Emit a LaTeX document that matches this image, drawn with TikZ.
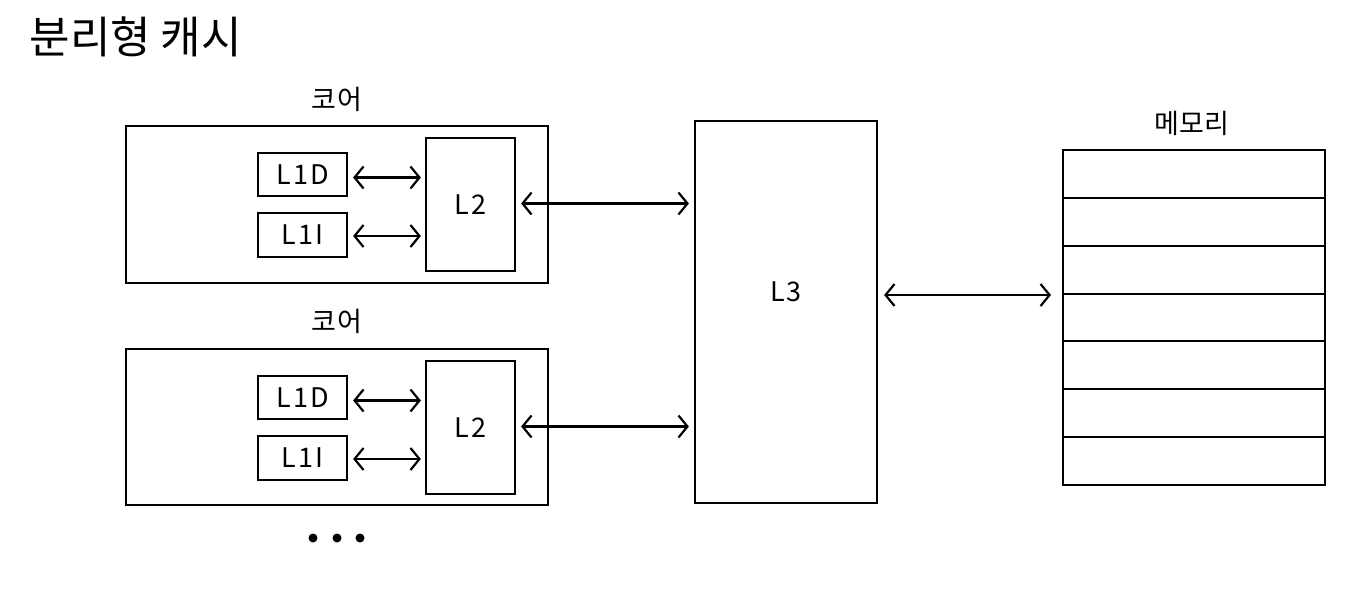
\documentclass[tikz,border=0pt]{standalone}
\usepackage{fontspec}
\setmainfont{Noto Sans CJK KR}
\usetikzlibrary{arrows.meta}
\begin{document}
\begin{tikzpicture}[x=1pt,y=-1pt,
  box/.style={draw, line width=2.2pt, inner sep=0pt, rectangle},
  lbl/.style={font=\fontsize{27}{29}\selectfont\addfontfeatures{LetterSpace=8}},
  klbl/.style={font=\fontsize{27}{29}\selectfont\addfontfeatures{LetterSpace=2}},
  biarrow/.style={line width=2.2pt, {Straight Barb[length=9pt,width=22pt,line width=2.2pt]}-{Straight Barb[length=9pt,width=22pt,line width=2.2pt]}},
  dot/.style={circle, fill=black, inner sep=0pt, minimum size=9pt}
]
\useasboundingbox (0,0) rectangle (1364,590);
\node[font=\fontsize{44}{46}\selectfont, anchor=west] (title) at (26,37) {분리형 캐시};

% core 1
\node[klbl] (c1lbl) at (337,99) {코어};
\node[box, minimum width=422pt, minimum height=157pt] (core1) at (337,204.5) {};
\node[box, lbl, minimum width=89pt, minimum height=43pt] (l1da) at (302.5,174.5) {L1D};
\node[box, lbl, minimum width=89pt, minimum height=44pt] (l1ia) at (302.5,235) {L1I};
\node[box, lbl, minimum width=89pt, minimum height=133pt] (l2a) at (470.5,204.5) {L2};

% core 2
\node[klbl] (c2lbl) at (337,321) {코어};
\node[box, minimum width=422pt, minimum height=156pt] (core2) at (337,427) {};
\node[box, lbl, minimum width=89pt, minimum height=43pt] (l1db) at (302.5,397.5) {L1D};
\node[box, lbl, minimum width=89pt, minimum height=44pt] (l1ib) at (302.5,458) {L1I};
\node[box, lbl, minimum width=89pt, minimum height=133pt] (l2b) at (470.5,427.5) {L2};

% L3
\node[box, minimum width=182pt, minimum height=382pt] (l3) at (786,312) {};
\node[lbl] (l3lbl) at (786,292) {L3};

% memory
\node[klbl] (memlbl) at (1192,123) {메모리};
\node[box, line width=2pt, minimum width=262pt, minimum height=335pt] (mem) at (1194,317.5) {};
\foreach \i in {1,...,6} {
  \draw[line width=2pt] (1063,150+\i*47.857) -- (1325,150+\i*47.857);
}

% arrows
\draw[biarrow, shorten <=5pt, shorten >=4pt] (l1da.east) ++(0,3) coordinate (a1) -- (a1 -| l2a.west);
\draw[biarrow, shorten <=5pt, shorten >=4pt] (l1ia.east) ++(0,1) coordinate (a2) -- (a2 -| l2a.west);
\draw[biarrow, shorten <=5pt, shorten >=5pt] (l2a.east) ++(0,-1) coordinate (a3) -- (a3 -| l3.west);
\draw[biarrow, shorten <=5pt, shorten >=4pt] (l1db.east) ++(0,3) coordinate (b1) -- (b1 -| l2b.west);
\draw[biarrow, shorten <=5pt, shorten >=4pt] (l1ib.east) ++(0,1) coordinate (b2) -- (b2 -| l2b.west);
\draw[biarrow, shorten <=5pt, shorten >=5pt] (l2b.east) ++(0,-1) coordinate (b3) -- (b3 -| l3.west);
\coordinate (m) at (0,295);
\draw[biarrow, shorten <=6pt, shorten >=11pt] (l3.east |- m) -- (mem.west |- m);

% dots
\node[dot] (d1) at (313,538) {};
\node[dot] (d2) at (337,538) {};
\node[dot] (d3) at (360,538) {};
\end{tikzpicture}
\end{document}
